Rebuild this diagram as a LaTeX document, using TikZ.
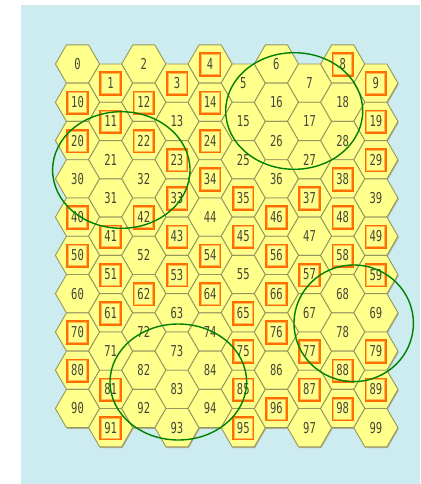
\documentclass[tikz,border=0pt]{standalone}
\usepackage{fontspec}
\newfontfamily\hexfont[FakeStretch=0.7]{DejaVu Sans Mono}
\definecolor{bgc}{RGB}{204,236,239}
\definecolor{hexfill}{RGB}{255,255,140}
\definecolor{hexline}{RGB}{150,150,95}
\definecolor{hexshadow}{RGB}{175,175,150}
\definecolor{sqout}{RGB}{255,110,0}
\definecolor{sqin}{RGB}{255,185,80}
\definecolor{txt}{RGB}{70,70,55}
\definecolor{ring}{RGB}{0,128,0}
\begin{document}
\begin{tikzpicture}[x=1pt,y=-1pt,
  hexcell/.style={fill=hexfill,draw=hexline,line width=0.9pt,line join=round},
  hexshade/.style={fill=hexshadow},
  sqouter/.style={draw=sqout,line width=1.8pt},
  sqinner/.style={draw=sqin,line width=0.9pt},
  lbl/.style={font=\hexfont\fontsize{15}{15}\selectfont,text=txt,inner sep=0pt},
  ringline/.style={draw=ring,line width=1.4pt}]
\useasboundingbox (0,0) rectangle (420,484);
\fill[bgc] (21,5) rectangle (420,484);
% shadows
\foreach \r in {0,...,9}{\foreach \c in {0,...,9}{
  \pgfmathsetmacro{\cx}{77.5+33.15*\c+0.8}
  \pgfmathsetmacro{\cy}{64+38.28*\r+19.14*mod(\c,2)+1.2}
  \fill[hexshade] (\cx+22.1,\cy) -- (\cx+11.05,\cy+19.14) -- (\cx-11.05,\cy+19.14) -- (\cx-22.1,\cy) -- (\cx-11.05,\cy-19.14) -- (\cx+11.05,\cy-19.14) -- cycle;
}}
% hexagons
\foreach \r in {0,...,9}{\foreach \c in {0,...,9}{
  \pgfmathsetmacro{\cx}{77.5+33.15*\c}
  \pgfmathsetmacro{\cy}{64+38.28*\r+19.14*mod(\c,2)}
  \draw[hexcell] (\cx+22.1,\cy) -- (\cx+11.05,\cy+19.14) -- (\cx-11.05,\cy+19.14) -- (\cx-22.1,\cy) -- (\cx-11.05,\cy-19.14) -- (\cx+11.05,\cy-19.14) -- cycle;
}}
% orange squares
\foreach \n in {1,3,4,8,9,10,11,12,14,19,20,22,23,24,29,33,34,35,37,38,40,41,42,43,45,46,48,49,50,51,53,54,56,57,58,59,61,62,64,65,66,70,75,76,77,79,80,81,85,87,88,89,91,95,96,98}{
  \pgfmathtruncatemacro{\r}{\n/10}
  \pgfmathtruncatemacro{\c}{mod(\n,10)}
  \pgfmathsetmacro{\cx}{77.5+33.15*\c}
  \pgfmathsetmacro{\cy}{64+38.28*\r+19.14*mod(\c,2)+0.5}
  \draw[sqouter] (\cx-10.3,\cy-11.3) rectangle (\cx+10.3,\cy+11.3);
  \draw[sqinner] (\cx-9.0,\cy-10.0) rectangle (\cx+9.0,\cy+10.0);
}
% labels
\foreach \r in {0,...,9}{\foreach \c in {0,...,9}{
  \pgfmathsetmacro{\cx}{77.5+33.15*\c}
  \pgfmathsetmacro{\cy}{64+38.28*\r+19.14*mod(\c,2)}
  \pgfmathtruncatemacro{\n}{10*\r+\c}
  \node[lbl] (h\n) at (\cx,\cy) {\n};
}}
% rings
\draw[ringline] (294.2,111) ellipse [x radius=68.5pt, y radius=58.3pt];
\draw[ringline] (121.3,170) ellipse [x radius=68.7pt, y radius=58.3pt];
\draw[ringline] (353.7,323.3) ellipse [x radius=59.7pt, y radius=58.3pt];
\draw[ringline] (178.3,382) ellipse [x radius=68.3pt, y radius=58pt];
\end{tikzpicture}
\end{document}
